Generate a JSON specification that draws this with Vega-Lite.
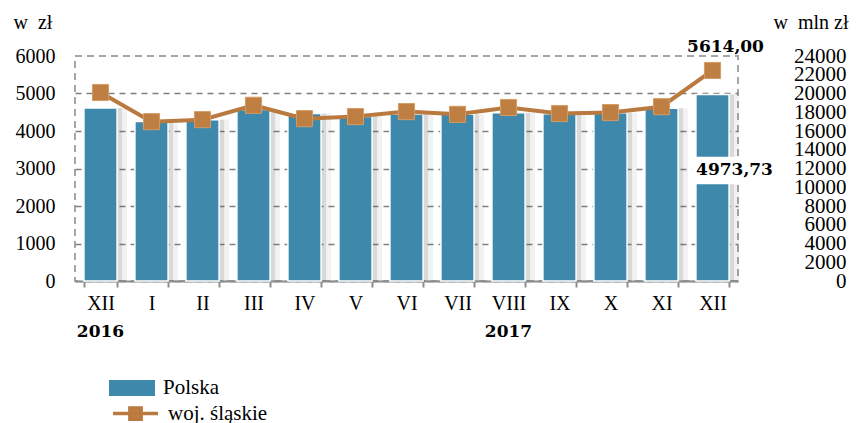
{
  "$schema": "https://vega.github.io/schema/vega-lite/v6.json",
  "width": 663,
  "height": 225,
  "autosize": {"type": "none"},
  "padding": {"left": 75, "top": 56, "right": 119, "bottom": 142},
  "background": "white",
  "config": {
    "view": {"stroke": "#a6a6a6", "strokeWidth": 2, "strokeDash": [7, 5]},
    "locale": {"number": {"decimal": ",", "thousands": "", "grouping": [3], "currency": ["", " zł"]}},
    "axis": {"labelFont": "Liberation Serif", "labelColor": "#000", "titleFont": "Liberation Serif", "titleColor": "#000", "titleFontWeight": "normal"},
    "axisLeft": {"tickCount": 7, "labelOverlap": false, "labelFontSize": 20, "labelPadding": 20},
    "axisRight": {"tickCount": 13, "labelOverlap": false}
  },
  "data": {
    "values": [
      {"m": "XII 2016", "polska": 4615, "slaskie": 5027},
      {"m": "I", "polska": 4255, "slaskie": 4250},
      {"m": "II", "polska": 4300, "slaskie": 4303},
      {"m": "III", "polska": 4575, "slaskie": 4686},
      {"m": "IV", "polska": 4470, "slaskie": 4330},
      {"m": "V", "polska": 4390, "slaskie": 4385},
      {"m": "VI", "polska": 4455, "slaskie": 4517},
      {"m": "VII", "polska": 4445, "slaskie": 4445},
      {"m": "VIII", "polska": 4490, "slaskie": 4627},
      {"m": "IX", "polska": 4462, "slaskie": 4466},
      {"m": "X", "polska": 4490, "slaskie": 4492},
      {"m": "XI", "polska": 4604, "slaskie": 4648},
      {"m": "XII 2017", "polska": 4973.73, "slaskie": 5614.00}
    ]
  },
  "layer": [
    {
      "layer": [
        {
          "mark": {"type": "bar", "fill": "#555555", "opacity": 0.16, "xOffset": 5},
          "encoding": {
            "x": {"field": "m", "type": "nominal", "sort": null, "scale": {"paddingInner": 0.35, "paddingOuter": 0.175},
              "axis": {"title": null, "labelExpr": "isString(datum.value) ? split(datum.value, ' ')[0] : ''", "labelAngle": 0, "labelFontSize": 20, "labelOverlap": false,
                "domainColor": "#8c8c8c", "domainWidth": 2, "tickColor": "#8c8c8c", "tickWidth": 2, "tickSize": 6, "tickBand": "extent", "labelPadding": 6, "grid": false}},
            "y": {"field": "polska", "type": "quantitative", "scale": {"domain": [0, 6000], "nice": false},
              "axis": {"title": "w\u00a0 zł", "titleAngle": 0, "titleAlign": "left", "titleBaseline": "alphabetic", "titleX": -62, "titleY": -28, "titleFontSize": 20,
                "values": [0, 1000, 2000, 3000, 4000, 5000, 6000], "tickCount": 7, "format": "d", "labelFontSize": 20, "labelPadding": 20, "labelOverlap": false, "ticks": false, "domain": false,
                "grid": true, "gridColor": "#7f7f7f", "gridDash": [6, 5], "gridWidth": 1.5,
                "gridOpacity": {"condition": {"test": "datum.value == 6000", "value": 0}, "value": 1}}}
          }
        },
        {
          "mark": {"type": "bar", "fill": "#555555", "opacity": 0.08, "xOffset": 10},
          "encoding": {
            "x": {"field": "m", "type": "nominal", "sort": null},
            "y": {"field": "polska", "type": "quantitative"}
          }
        },
        {
          "mark": {"type": "bar", "stroke": "#ffffff", "strokeWidth": 1.5},
          "encoding": {
            "x": {"field": "m", "type": "nominal", "sort": null},
            "y": {"field": "polska", "type": "quantitative"},
            "fill": {"datum": "Polska", "type": "nominal", "scale": {"range": ["#3e88ac"]},
              "legend": {"orient": "none", "legendX": 34, "legendY": 309, "title": null, "symbolType": "M-1,-0.35H1V0.35H-1Z", "symbolSize": 2116, "symbolStrokeWidth": 0,
                "labelFont": "Liberation Serif", "labelFontSize": 21, "labelColor": "#000", "labelOffset": 8}}
          }
        },
        {
          "mark": {"type": "line", "strokeWidth": 4},
          "encoding": {
            "x": {"field": "m", "type": "nominal", "sort": null},
            "y": {"field": "slaskie", "type": "quantitative"},
            "stroke": {"datum": "woj. śląskie", "type": "nominal", "scale": {"range": ["#b9793f"]},
              "legend": {"orient": "none", "legendX": 36, "legendY": 333, "title": null, "symbolType": "M-1,0H1M-0.25,-0.25H0.25V0.25H-0.25Z", "symbolSize": 2025, "symbolStrokeWidth": 3.5, "symbolFillColor": "#bf7f42",
                "labelFont": "Liberation Serif", "labelFontSize": 21, "labelColor": "#000", "labelOffset": 8}}
          }
        },
        {
          "mark": {"type": "point", "shape": "square", "filled": true, "size": 260, "fill": "#bf7f42", "stroke": "#d39c66", "strokeWidth": 1, "opacity": 1},
          "encoding": {
            "x": {"field": "m", "type": "nominal", "sort": null},
            "y": {"field": "slaskie", "type": "quantitative"}
          }
        },
        {
          "transform": [{"filter": "datum.m == 'XII 2017'"}],
          "mark": {"type": "point", "shape": "M-1,-0.32H1V0.32H-1Z", "filled": true, "fill": "#ffffff", "size": 7396, "opacity": 1, "strokeWidth": 0, "xOffset": 22, "yOffset": 76},
          "encoding": {
            "x": {"field": "m", "type": "nominal", "sort": null},
            "y": {"field": "polska", "type": "quantitative"}
          }
        },
        {
          "transform": [{"filter": "datum.m == 'XII 2017'"}],
          "mark": {"type": "text", "font": "DejaVu Serif", "fontWeight": "bold", "fontSize": 17, "dx": 22, "dy": 76, "baseline": "middle", "color": "#000"},
          "encoding": {
            "x": {"field": "m", "type": "nominal", "sort": null},
            "y": {"field": "polska", "type": "quantitative"},
            "text": {"field": "polska", "type": "quantitative", "format": ".2f"}
          }
        },
        {
          "transform": [{"filter": "datum.m == 'XII 2017'"}],
          "mark": {"type": "text", "font": "DejaVu Serif", "fontWeight": "bold", "fontSize": 17, "dx": 13, "dy": -23, "baseline": "middle", "color": "#000"},
          "encoding": {
            "x": {"field": "m", "type": "nominal", "sort": null},
            "y": {"field": "slaskie", "type": "quantitative"},
            "text": {"field": "slaskie", "type": "quantitative", "format": ".2f"}
          }
        }
      ]
    },
    {
      "mark": {"type": "rule", "opacity": 0},
      "encoding": {
        "x": {"field": "m", "type": "nominal", "sort": null,
          "axis": {"orient": "bottom", "title": null, "labelExpr": "datum.value == 'XII 2016' ? '2016' : (datum.value == 'VIII' ? '2017' : '')", "labelAngle": 0,
            "labelFont": "DejaVu Serif", "labelFontWeight": "bold", "labelFontSize": 17, "labelOverlap": false, "domain": false, "ticks": false, "tickSize": 0, "labelPadding": 42, "grid": false}}
      }
    },
    {
      "mark": {"type": "rule", "opacity": 0},
      "encoding": {
        "y": {"datum": 0, "type": "quantitative", "scale": {"domain": [0, 24000], "nice": false},
          "axis": {"orient": "right", "title": "w\u00a0 mln zł", "titleAngle": 0, "titleAlign": "left", "titleBaseline": "alphabetic", "titleX": 35, "titleY": -28, "titleFontSize": 20,
            "values": [0, 2000, 4000, 6000, 8000, 10000, 12000, 14000, 16000, 18000, 20000, 22000, 24000], "tickCount": 13, "format": "d", "labelFontSize": 21, "labelAlign": "right", "labelPadding": 108,
            "labelOverlap": false, "ticks": false, "domain": false, "grid": false}}
      }
    }
  ],
  "resolve": {"scale": {"y": "independent"}, "axis": {"x": "independent", "y": "independent"}}
}
